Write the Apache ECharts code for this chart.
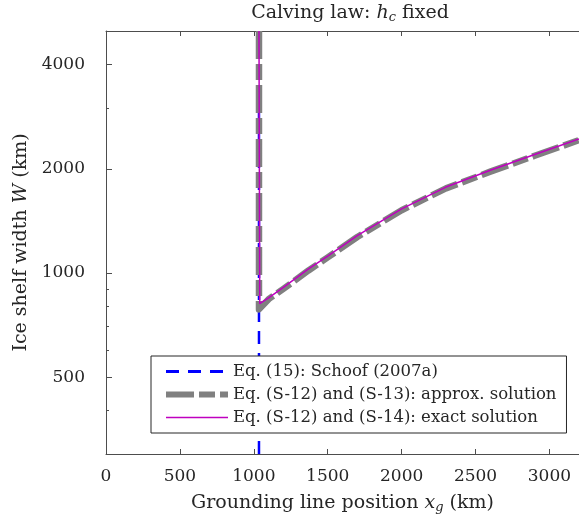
<!DOCTYPE html>
<html>
<head>
<meta charset="utf-8">
<script src="https://cdn.jsdelivr.net/npm/echarts@6/dist/echarts.min.js"></script>
<style>
  html, body { margin: 0; padding: 0; background: #fff; }
  #main { width: 579px; height: 524px; }
</style>
</head>
<body>
<div id="main"></div>
<script>
// ticks
var xTicks = [0, 500, 1000, 1500, 2000, 2500, 3000];
var yMajor = [500, 1000, 2000, 4000];
var yMinor = [400, 600, 700, 800, 900, 3000];

// Eq. (15): Schoof (2007a) -- vertical line
var schoofX = [1035, 1035];
var schoofW = [300, 5000];

// Eq. (S-12) and (S-13): approx. solution
var approxX = [1035, 1035, 1100, 1200, 1370, 1500, 1700, 2000, 2300, 2600, 2900, 3200];
var approxW = [5000, 785, 840, 900, 1017, 1109, 1270, 1518, 1755, 1962, 2180, 2420];

// Eq. (S-12) and (S-14): exact solution
var exactX = [1035, 1040, 1100, 1200, 1370, 1500, 1700, 2000, 2300, 2600, 2900, 3200];
var exactW = [5000, 815, 847, 909, 1027, 1119, 1282, 1532, 1771, 1980, 2200, 2440];

var names = ['Eq. (15): Schoof (2007a)', 'Eq. (S-12) and (S-13): approx. solution', 'Eq. (S-12) and (S-14): exact solution'];

function pairs(xs, ys) {
    var out = [];
    for (var i = 0; i < xs.length; i++) {
        out.push([xs[i], ys[i]]);
    }
    return out;
}

var FONT = '"DejaVu Serif", "Liberation Serif", serif';
var axisColor = '#4d4d4d';
var textColor = '#262626';

var myChart = echarts.init(document.getElementById('main'));

var option = {
    animation: false,
    backgroundColor: '#fff',
    title: {
        text: 'Calving law: {i|h}{sub|c} fixed',
        left: 345,
        top: -2,
        textAlign: 'center',
        textStyle: {
            fontFamily: FONT, fontSize: 19, fontWeight: 'normal', color: textColor,
            rich: {
                i: { fontFamily: FONT, fontSize: 19, fontStyle: 'italic', color: textColor },
                sub: { fontFamily: FONT, fontSize: 13, fontStyle: 'italic', color: textColor, verticalAlign: 'bottom', padding: [8, 0, 0, 0] }
            }
        }
    },
    grid: { left: 106, right: 0, top: 31, bottom: 70 },
    legend: {
        orient: 'vertical',
        left: 151,
        top: 356,
        padding: [7, 10, 7, 12],
        itemWidth: 62,
        itemHeight: 18,
        itemGap: 6,
        itemTextGap: 7,
        backgroundColor: '#fff',
        borderColor: '#262626',
        borderWidth: 1,
        borderRadius: 0,
        selectedMode: false,
        itemStyle: { opacity: 0 },
        textStyle: { fontFamily: FONT, fontSize: 16.5, color: textColor },
        data: [
            { name: names[0], lineStyle: { width: 3 } },
            { name: names[1], lineStyle: { width: 6 } },
            { name: names[2], lineStyle: { width: 1.5 } }
        ]
    },
    xAxis: [{
        type: 'value',
        min: 0,
        max: 3200,
        position: 'bottom',
        name: 'Grounding line position {i|x}{sub|g} (km)',
        nameLocation: 'middle',
        nameGap: 39,
        nameTextStyle: {
            fontFamily: FONT, fontSize: 19, color: textColor,
            rich: {
                i: { fontFamily: FONT, fontSize: 19, fontStyle: 'italic', color: textColor },
                sub: { fontFamily: FONT, fontSize: 13, fontStyle: 'italic', color: textColor, verticalAlign: 'bottom', padding: [8, 0, 0, 0] }
            }
        },
        axisLine: { show: true, onZero: false, lineStyle: { color: axisColor, width: 1 } },
        axisTick: { show: true, inside: true, length: 5, customValues: xTicks, lineStyle: { color: axisColor } },
        axisLabel: {
            customValues: xTicks, margin: 14, fontFamily: FONT, fontSize: 17, color: textColor,
            formatter: function (v) { return String(v); }
        },
        splitLine: { show: false }
    }, {
        type: 'value',
        min: 0,
        max: 3200,
        position: 'top',
        axisLine: { show: true, onZero: false, lineStyle: { color: axisColor, width: 1 } },
        axisTick: { show: true, inside: true, length: 5, customValues: xTicks, lineStyle: { color: axisColor } },
        axisLabel: { show: false },
        splitLine: { show: false }
    }],
    yAxis: [{
        type: 'log',
        logBase: 10,
        min: 300,
        max: 5000,
        position: 'left',
        name: 'Ice shelf width {i|W} (km)',
        nameLocation: 'middle',
        nameGap: 73,
        nameTextStyle: {
            fontFamily: FONT, fontSize: 19, color: textColor,
            rich: {
                i: { fontFamily: FONT, fontSize: 19, fontStyle: 'italic', color: textColor }
            }
        },
        axisLine: { show: true, onZero: false, lineStyle: { color: axisColor, width: 1 } },
        axisTick: { show: true, inside: true, length: 6, customValues: yMajor, lineStyle: { color: axisColor } },
        axisLabel: {
            customValues: yMajor, margin: 21, fontFamily: FONT, fontSize: 17, color: textColor,
            formatter: function (v) { return String(Math.round(v)); }
        },
        splitLine: { show: false }
    }, {
        type: 'log',
        logBase: 10,
        min: 300,
        max: 5000,
        position: 'left',
        axisLine: { show: false },
        axisTick: { show: true, inside: true, length: 3, customValues: yMinor, lineStyle: { color: axisColor } },
        axisLabel: { show: false },
        splitLine: { show: false }
    }],
    series: [{
        name: names[0],
        type: 'line',
        symbol: 'none',
        data: pairs(schoofX, schoofW),
        lineStyle: { color: '#0000ff', width: 2.5, type: [13, 9] },
        itemStyle: { color: '#0000ff' },
        z: 2
    }, {
        name: names[1],
        type: 'line',
        symbol: 'none',
        data: pairs(approxX, approxW),
        lineStyle: { color: '#808080', width: 6.5, type: [28, 5, 16, 5], cap: 'butt', join: 'round' },
        itemStyle: { color: '#808080' },
        z: 3
    }, {
        name: names[2],
        type: 'line',
        symbol: 'none',
        data: pairs(exactX, exactW),
        lineStyle: { color: '#bf00bf', width: 1.5 },
        itemStyle: { color: '#bf00bf' },
        z: 4
    }]
};

myChart.setOption(option);
</script>
</body>
</html>
